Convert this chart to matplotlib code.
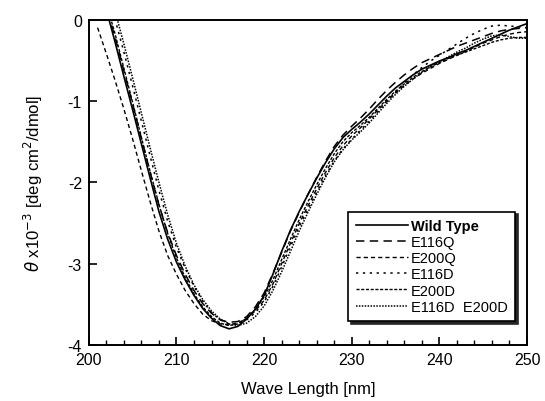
import numpy as np
import matplotlib
matplotlib.use("Agg")
import matplotlib.pyplot as plt
from matplotlib.ticker import MultipleLocator

plt.rcParams["font.family"] = ["Liberation Sans", "DejaVu Sans"]
plt.rcParams["axes.unicode_minus"] = False

wavelength = np.arange(201, 251)

wild_type = [0.45, 0.12, -0.28, -0.70, -1.11, -1.53, -1.95, -2.36, -2.70, -2.98,
             -3.20, -3.39, -3.55, -3.67, -3.76, -3.80, -3.77, -3.68, -3.56, -3.39,
             -3.13, -2.85, -2.59, -2.36, -2.15, -1.95, -1.76, -1.59, -1.45, -1.35,
             -1.26, -1.16, -1.05, -0.94, -0.84, -0.76, -0.68, -0.61, -0.56, -0.51,
             -0.47, -0.42, -0.38, -0.33, -0.28, -0.23, -0.18, -0.13, -0.09, -0.05]
e116q = [0.45, 0.15, -0.22, -0.63, -1.04, -1.46, -1.88, -2.28, -2.62, -2.90,
         -3.13, -3.33, -3.49, -3.61, -3.69, -3.72, -3.71, -3.65, -3.53, -3.36,
         -3.12, -2.86, -2.60, -2.37, -2.15, -1.94, -1.74, -1.56, -1.42, -1.31,
         -1.21, -1.10, -0.98, -0.87, -0.77, -0.68, -0.60, -0.53, -0.48, -0.43,
         -0.38, -0.33, -0.29, -0.25, -0.21, -0.17, -0.14, -0.12, -0.11, -0.10]
e200q = [-0.10, -0.42, -0.75, -1.10, -1.47, -1.86, -2.24, -2.60, -2.90, -3.13,
         -3.33, -3.49, -3.62, -3.70, -3.74, -3.75, -3.73, -3.67, -3.58, -3.45,
         -3.25, -3.00, -2.75, -2.51, -2.29, -2.08, -1.88, -1.70, -1.55, -1.43,
         -1.33, -1.22, -1.11, -1.00, -0.90, -0.81, -0.73, -0.66, -0.60, -0.54,
         -0.49, -0.44, -0.39, -0.34, -0.29, -0.25, -0.21, -0.18, -0.16, -0.15]
e116d = [0.60, 0.35, 0.00, -0.40, -0.82, -1.25, -1.68, -2.10, -2.48, -2.80,
         -3.06, -3.28, -3.46, -3.60, -3.69, -3.74, -3.74, -3.69, -3.60, -3.47,
         -3.28, -3.04, -2.79, -2.55, -2.33, -2.12, -1.92, -1.74, -1.59, -1.47,
         -1.36, -1.25, -1.13, -1.01, -0.89, -0.78, -0.68, -0.59, -0.51, -0.44,
         -0.37, -0.30, -0.23, -0.17, -0.12, -0.08, -0.07, -0.08, -0.09, -0.10]
e200d = [0.50, 0.20, -0.18, -0.60, -1.02, -1.45, -1.87, -2.27, -2.63, -2.93,
         -3.17, -3.37, -3.53, -3.65, -3.73, -3.76, -3.74, -3.67, -3.56, -3.41,
         -3.20, -2.95, -2.70, -2.46, -2.24, -2.03, -1.83, -1.65, -1.50, -1.39,
         -1.30, -1.20, -1.09, -0.98, -0.88, -0.79, -0.71, -0.64, -0.58, -0.53,
         -0.48, -0.44, -0.40, -0.36, -0.32, -0.28, -0.25, -0.23, -0.22, -0.22]
e116d_e200d = [0.75, 0.45, 0.10, -0.30, -0.72, -1.15, -1.58, -2.00, -2.40, -2.75,
               -3.03, -3.26, -3.44, -3.58, -3.68, -3.74, -3.76, -3.73, -3.65, -3.52,
               -3.33, -3.10, -2.85, -2.60, -2.37, -2.15, -1.94, -1.75, -1.60, -1.48,
               -1.38, -1.27, -1.15, -1.03, -0.92, -0.82, -0.73, -0.65, -0.58, -0.52,
               -0.46, -0.40, -0.35, -0.29, -0.24, -0.20, -0.19, -0.21, -0.23, -0.23]

labels = ["Wild Type", "E116Q", "E200Q", "E116D", "E200D", "E116D  E200D"]
series = [wild_type, e116q, e200q, e116d, e200d, e116d_e200d]
styles = ["-", (0, (5.5, 3.5)), (0, (3, 2.2)), (0, (1.5, 3)), (0, (2.2, 1.2)), (0, (1, 0.9))]
widths = [1.2, 1.1, 1.0, 1.1, 1.0, 1.1]

fig = plt.figure(figsize=(5.45, 4.02), dpi=100)
ax = fig.add_axes([0.163, 0.139, 0.804, 0.810])

for vals, lab, ls, lw in zip(series, labels, styles, widths):
    ax.plot(wavelength, vals, color="black", linestyle=ls, linewidth=lw, label=lab)

ax.set_xlim(200, 250)
ax.set_ylim(-4, 0)
ax.xaxis.set_major_locator(MultipleLocator(10))
ax.xaxis.set_minor_locator(MultipleLocator(2))
ax.yaxis.set_major_locator(MultipleLocator(1))
ax.tick_params(axis="both", which="major", direction="in", length=6, width=1.2,
               labelsize=11.5, top=False, right=False, pad=5)
ax.tick_params(axis="x", which="minor", direction="in", length=3.5, width=1)
for sp in ax.spines.values():
    sp.set_linewidth(1.4)

ax.set_xlabel("Wave Length [nm]", fontsize=12, labelpad=10)
ax.set_ylabel(r"$\theta$ x10$^{-3}$ [deg cm$^{2}$/dmol]", fontsize=12, labelpad=16)

leg = ax.legend(loc="lower right", bbox_to_anchor=(0.973, 0.074), fontsize=10.5,
                frameon=True, fancybox=False, shadow={"color": "0.15", "alpha": 1},
                handlelength=3.6, handletextpad=0.2, labelspacing=0.15,
                borderpad=0.5, borderaxespad=0, edgecolor="black")
leg.get_frame().set_linewidth(1.2)
leg.get_texts()[0].set_fontweight("bold")

fig.savefig("out.png", dpi=100)
